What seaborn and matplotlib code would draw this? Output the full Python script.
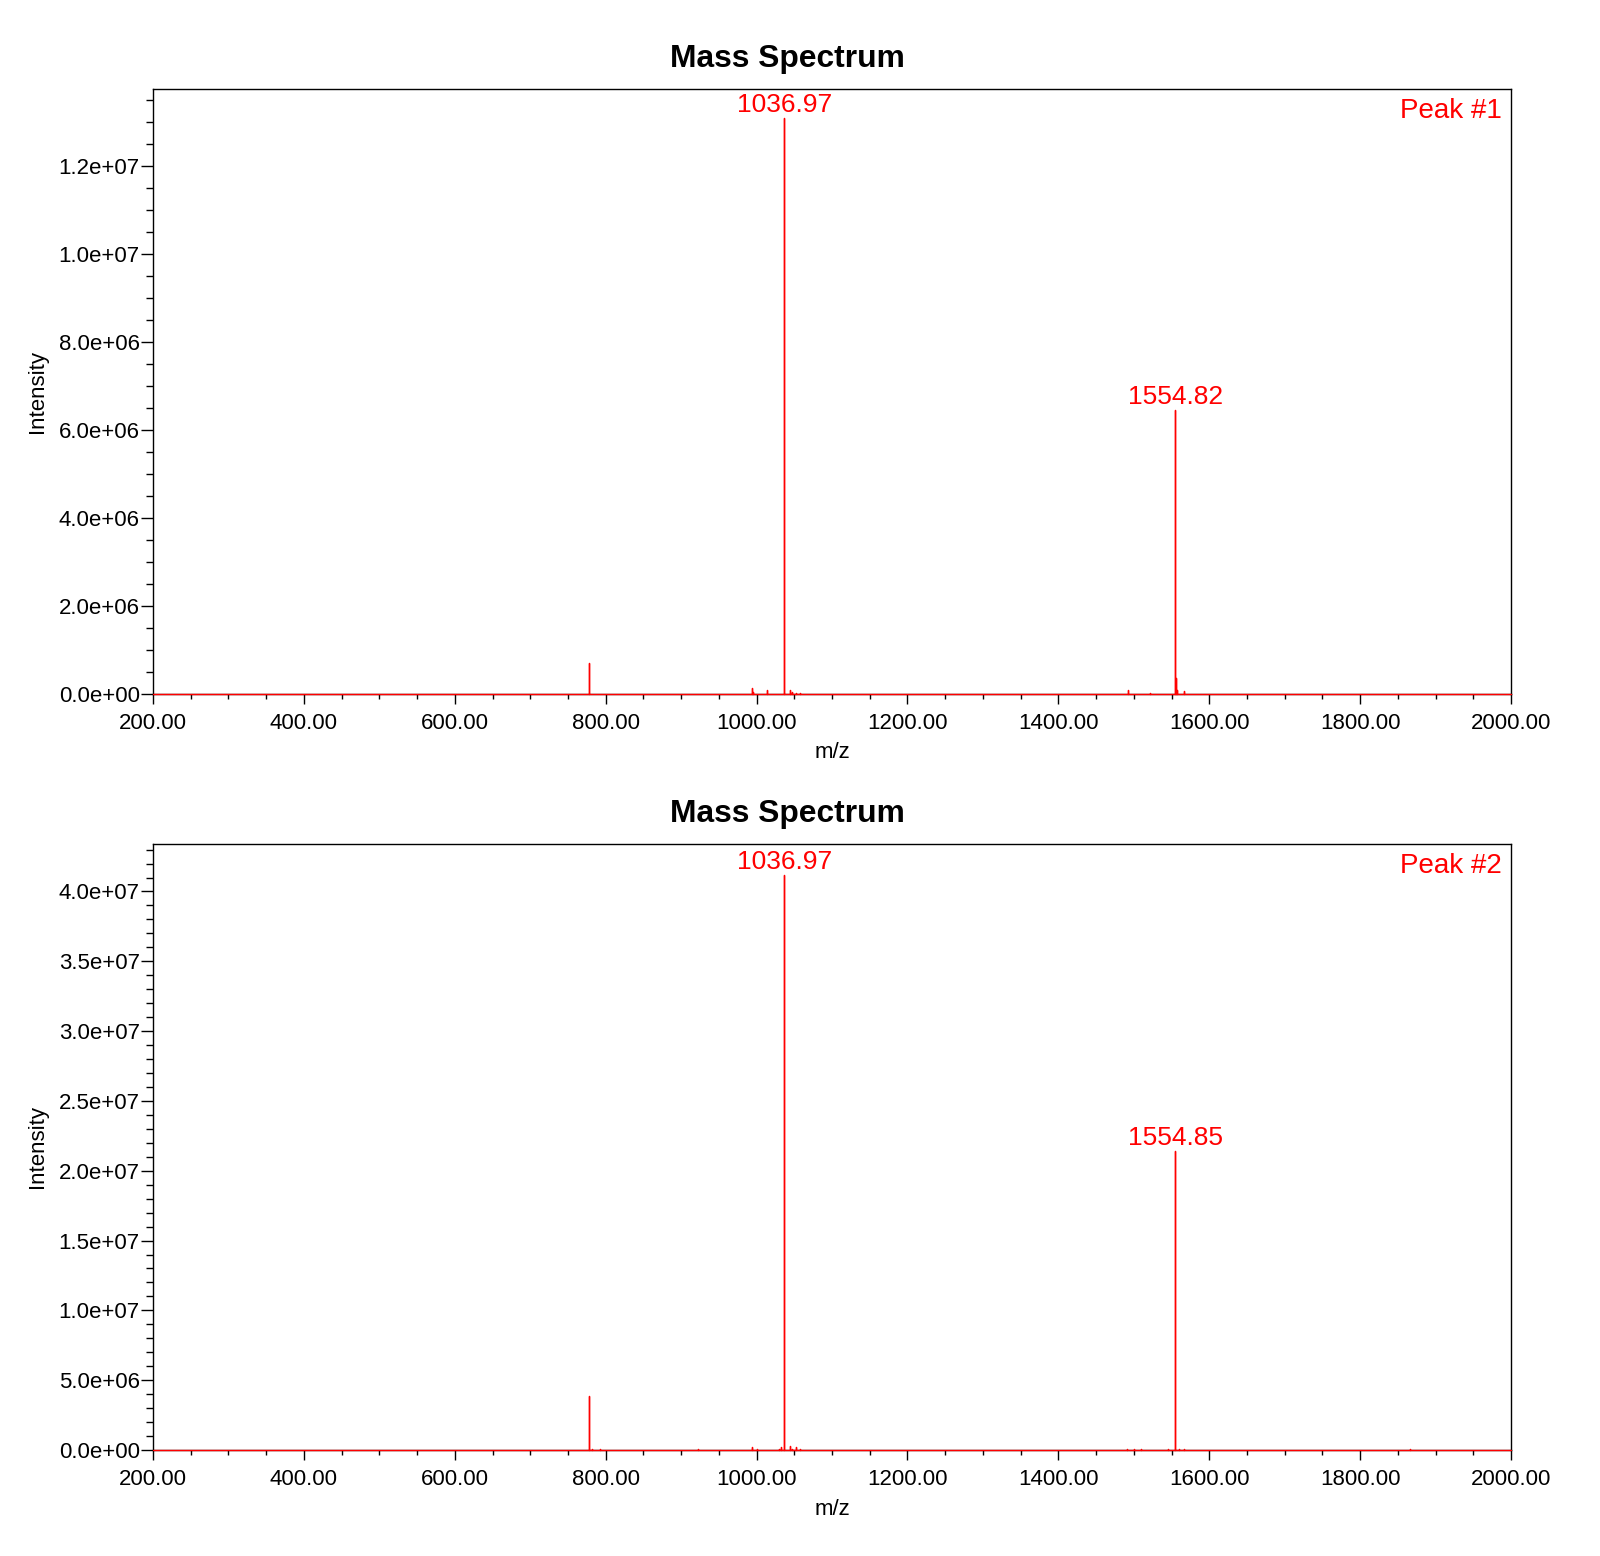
import numpy as np
import pandas as pd
import matplotlib
matplotlib.use("Agg")
import matplotlib.pyplot as plt
import seaborn as sns
from matplotlib.ticker import MultipleLocator, FuncFormatter

# ---- data ----
mz_1 = [778.4, 993.9, 995.5, 1013.8, 1030.0, 1036.97, 1044.0, 1047.0, 1052.0, 1058.0,
        1068.0, 1078.0, 1492.0, 1521.0, 1554.82, 1555.8, 1557.0, 1567.0]
int_1 = [0.71e6, 0.14e6, 0.05e6, 0.10e6, 0.01e6, 13.1e6, 0.08e6, 0.04e6, 0.03e6, 0.02e6,
         0.01e6, 0.01e6, 0.10e6, 0.03e6, 6.45e6, 0.37e6, 0.08e6, 0.07e6]

mz_2 = [778.4, 782.0, 793.0, 922.0, 993.9, 1000.0, 1030.0, 1033.0, 1036.97, 1044.0,
        1047.0, 1052.0, 1058.0, 1491.0, 1500.0, 1510.0, 1545.0, 1554.85, 1560.0, 1567.0, 1866.0]
int_2 = [3.9e6, 0.05e6, 0.04e6, 0.05e6, 0.25e6, 0.05e6, 0.10e6, 0.25e6, 4.12e7, 0.30e6,
         0.10e6, 0.20e6, 0.05e6, 0.05e6, 0.05e6, 0.05e6, 0.05e6, 2.14e7, 0.05e6, 0.05e6, 0.10e6]

labels_1 = [(1036.97, "1036.97"), (1554.82, "1554.82")]
labels_2 = [(1036.97, "1036.97"), (1554.85, "1554.85")]
peak_names = ["Peak #1", "Peak #2"]
x_range = (200.0, 2000.0)
y_tops = [1.375e7, 4.34e7]
y_major = [2.0e6, 5.0e6]
y_minor = [5.0e5, 1.0e6]

sns.set_style("ticks")
plt.rcParams['font.family'] = ['Liberation Sans', 'DejaVu Sans']
plt.rcParams['text.color'] = 'black'
plt.rcParams['axes.labelcolor'] = 'black'
plt.rcParams['xtick.color'] = 'black'
plt.rcParams['ytick.color'] = 'black'

RED = "#ff0000"

fig = plt.figure(figsize=(16, 15.56), dpi=100)
left, width = 153 / 1600, (1511 - 153) / 1600
ax1 = fig.add_axes([left, 1 - 694 / 1556, width, (694 - 89) / 1556])
ax2 = fig.add_axes([left, 1 - 1450 / 1556, width, (1450 - 844) / 1556])


def stick_frame(mz, inten):
    xs, ys = [x_range[0]], [0.0]
    order = np.argsort(mz)
    for i in order:
        xs += [mz[i], mz[i], mz[i]]
        ys += [0.0, inten[i], 0.0]
    xs.append(x_range[1]); ys.append(0.0)
    return pd.DataFrame({"mz": xs, "intensity": ys})


for ax, mz, inten, labs, name, ytop, ymaj, ymin in zip(
        [ax1, ax2], [mz_1, mz_2], [int_1, int_2], [labels_1, labels_2],
        peak_names, y_tops, y_major, y_minor):
    df = stick_frame(mz, inten)
    sns.lineplot(data=df, x="mz", y="intensity", sort=False, estimator=None,
                 color=RED, linewidth=1.0, ax=ax, zorder=3)
    for l in ax.lines:
        l.set_clip_on(False)
    ax.set_xlim(*x_range)
    ax.set_ylim(0, ytop)
    for sp in ax.spines.values():
        sp.set_visible(True)
        sp.set_color("black")
        sp.set_linewidth(1.0)
    ax.xaxis.set_major_locator(MultipleLocator(200))
    ax.xaxis.set_minor_locator(MultipleLocator(50))
    ax.yaxis.set_major_locator(MultipleLocator(ymaj))
    ax.yaxis.set_minor_locator(MultipleLocator(ymin))
    ax.xaxis.set_major_formatter(FuncFormatter(lambda v, p: f"{v:.2f}"))
    ax.yaxis.set_major_formatter(FuncFormatter(lambda v, p: f"{v:.1e}"))
    ax.tick_params(axis="x", which="major", length=7.5, width=1, direction="out",
                   labelsize=16, pad=6.5, colors="black")
    ax.tick_params(axis="x", which="minor", length=3.6, width=1, direction="out")
    ax.tick_params(axis="y", which="major", length=8.5, width=1, direction="out",
                   labelsize=16, pad=1, colors="black")
    ax.tick_params(axis="y", which="minor", length=5, width=1, direction="out")
    ax.set_xlabel("m/z", fontsize=16, color="black")
    ax.xaxis.set_label_coords(0.5, -59 / 605)
    ax.xaxis.label.set_va("center")
    ax.set_ylabel("Intensity", fontsize=16, color="black")
    ax.yaxis.set_label_coords(-116 / 1358, 0.5)
    ax.yaxis.label.set_va("center")
    ax.text(0.467, 1 + 30 / 605, "Mass Spectrum", transform=ax.transAxes,
            ha="center", va="center", fontsize=22.9, fontweight="bold", color="black")
    ax.text(0.9935, 1 - 22 / 605, name, transform=ax.transAxes, ha="right",
            va="center", fontsize=20, color=RED)
    peak_lookup = dict(zip(mz, inten))
    for x, txt in labs:
        ax.annotate(txt, xy=(x, peak_lookup[x]), xytext=(0, 0.6),
                    textcoords="offset points", ha="center", va="bottom",
                    fontsize=19, color=RED, annotation_clip=False)
    ax.grid(False)

fig.savefig("out.png", dpi=100, facecolor="white")
